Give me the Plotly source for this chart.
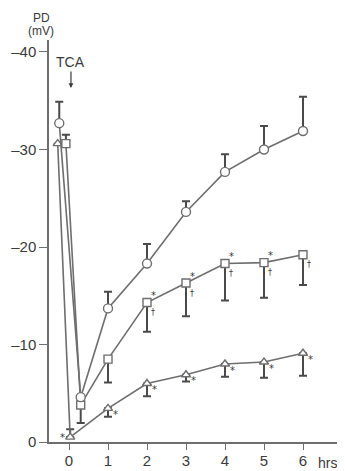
import plotly.graph_objects as go

# ---- data (PD in mV, time in hrs) ----
t_circle = [-0.25, 0.3, 1, 2, 3, 4, 5, 6]
pd_circle = [-32.7, -4.6, -13.7, -18.3, -23.6, -27.7, -30.0, -31.9]
circle_err_up = [2.2, 0, 1.7, 2.0, 1.1, 1.8, 2.4, 3.5]

t_square = [-0.08, 0.3, 1, 2, 3, 4, 5, 6]
pd_square = [-30.6, -3.8, -8.5, -14.3, -16.3, -18.3, -18.4, -19.2]
square_err_up = [0.9, 0, 0, 0, 0, 0, 0, 0]
square_err_down = [0, 1.85, 2.4, 3.0, 3.4, 3.8, 3.6, 3.1]

t_tri = [-0.29, 0.03, 1, 2, 3, 4, 5, 6]
pd_tri = [-30.6, -0.5, -3.45, -6.0, -6.9, -8.0, -8.2, -9.1]
tri_err_up = [0, 0.8, 0, 0, 0, 0, 0, 0]
tri_err_down = [0, 0, 0.85, 1.3, 0.7, 1.3, 1.6, 2.3]

# significance marks
square_star_idx = [3, 4, 5, 6]
square_dagger_idx = [3, 4, 5, 6, 7]
tri_star_idx = [1, 2, 3, 4, 5, 6, 7]

x_ticks = [0, 1, 2, 3, 4, 5, 6]
y_ticks = [-40, -30, -20, -10, 0]
y_ticktext = ["\u201340", "\u201330", "\u201320", "\u201310", "0"]

ink = "#3a3a3a"
line_col = "#6e6e6e"
err_col = "#4a4a4a"
FONT = "Liberation Sans Narrow, Liberation Sans, Arial, sans-serif"
MARK_FONT = "DejaVu Sans, Liberation Sans, sans-serif"

fig = go.Figure()

def add_series(t, y, up, down, symbol, size):
    fig.add_trace(go.Scatter(
        x=t, y=y, mode="lines+markers",
        line=dict(color=line_col, width=1.6),
        marker=dict(symbol=symbol, size=size, color="white",
                    line=dict(color=line_col, width=1.4)),
        error_y=dict(type="data", symmetric=False, array=down, arrayminus=up,
                     color=err_col, thickness=2, width=4),
        showlegend=False, cliponaxis=False,
    ))

add_series(t_tri, pd_tri, tri_err_up, tri_err_down, "triangle-up", 8)
add_series(t_square, pd_square, square_err_up, square_err_down, "square", 8)
add_series(t_circle, pd_circle, circle_err_up, [0] * len(t_circle), "circle", 9)

ann = []
for i in square_star_idx:
    ann.append(dict(x=t_square[i], y=pd_square[i], text="*", showarrow=False,
                    xshift=6, yshift=7, font=dict(size=10, color=ink, family=MARK_FONT)))
for i in square_dagger_idx:
    ann.append(dict(x=t_square[i], y=pd_square[i], text="\u2020", showarrow=False,
                    xshift=6, yshift=-10, font=dict(size=8, color=ink, family=MARK_FONT)))
for i in tri_star_idx:
    xs = -8 if t_tri[i] < 0.5 else 7
    ann.append(dict(x=t_tri[i], y=pd_tri[i], text="*", showarrow=False,
                    xshift=xs, yshift=-6 if i > 1 else 0,
                    font=dict(size=10, color=ink, family=MARK_FONT)))

ann.append(dict(x=0.05, y=-36.3, text="TCA", showarrow=True, ax=0, ay=-26,
                arrowhead=2, arrowsize=0.8, arrowwidth=1.2, arrowcolor=ink,
                font=dict(size=14, color=ink, family=FONT)))
ann.append(dict(xref="paper", yref="paper", x=-0.027, y=1.055, xanchor="center",
                yanchor="middle", text="PD", showarrow=False,
                font=dict(size=12, color=ink, family=FONT)))
ann.append(dict(xref="paper", yref="paper", x=-0.027, y=1.023, xanchor="center",
                yanchor="middle", text="(mV)", showarrow=False,
                font=dict(size=12, color=ink, family=FONT)))
ann.append(dict(xref="paper", yref="paper", x=0.94, y=-0.052, xanchor="center",
                yanchor="middle", text="hrs", showarrow=False,
                font=dict(size=14, color=ink, family=FONT)))

fig.update_layout(
    width=345, height=471,
    margin=dict(l=41, r=8, t=32, b=37),
    paper_bgcolor="white", plot_bgcolor="white",
    font=dict(family=FONT, color=ink, size=14),
    annotations=ann,
    xaxis=dict(range=[-0.513, 7.077], tickvals=x_ticks, showgrid=False,
               automargin=False,
               zeroline=False, showline=True, linecolor=line_col, linewidth=1.5,
               ticks="outside", ticklen=6, tickcolor=line_col, tickwidth=1.2,
               ticklabelstandoff=-2,
               tickfont=dict(size=15, color=ink, family=FONT)),
    yaxis=dict(range=[0, -41.23], tickvals=y_ticks, ticktext=y_ticktext,
               automargin=False,
               showgrid=False, zeroline=False, showline=True, linecolor=line_col,
               linewidth=1.5, ticks="outside", ticklen=8, tickcolor=line_col,
               tickwidth=1.2, tickfont=dict(size=15, color=ink, family=FONT)),
)

fig.write_html("out.html")
